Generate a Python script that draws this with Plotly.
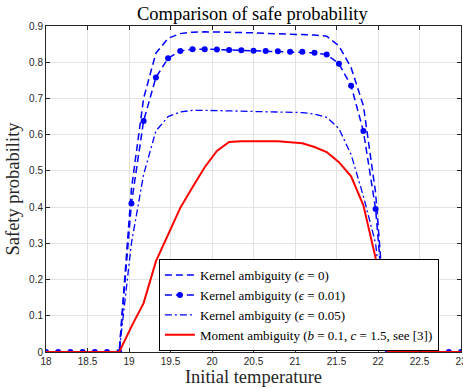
import plotly.graph_objects as go

x_temp = [18.0, 18.147, 18.294, 18.441, 18.588, 18.735, 18.882, 19.029, 19.176, 19.324,
          19.471, 19.618, 19.765, 19.912, 20.059, 20.206, 20.353, 20.5, 20.647, 20.794,
          20.941, 21.088, 21.235, 21.382, 21.529, 21.676, 21.824, 21.971, 22.118, 22.265,
          22.412, 22.559, 22.706, 22.853, 23.0]

kernel_eps0 = [0, 0, 0, 0, 0, 0, 0, 0.45, 0.70, 0.825,
               0.866, 0.879, 0.883, 0.884, 0.884, 0.883, 0.882, 0.881, 0.880, 0.879,
               0.878, 0.877, 0.875, 0.872, 0.845, 0.785, 0.68, 0.44, 0, 0,
               0, 0, 0, 0, 0]

kernel_eps001 = [0, 0, 0, 0, 0, 0, 0, 0.41, 0.638, 0.758,
                 0.811, 0.831, 0.836, 0.836, 0.835, 0.834, 0.833, 0.832, 0.831, 0.830,
                 0.829, 0.829, 0.826, 0.821, 0.796, 0.735, 0.61, 0.395, 0, 0,
                 0, 0, 0, 0, 0]

kernel_eps005 = [0, 0, 0, 0, 0, 0, 0, 0.30, 0.49, 0.61,
                 0.65, 0.663, 0.667, 0.667, 0.667, 0.666, 0.665, 0.664, 0.663, 0.663,
                 0.662, 0.661, 0.657, 0.648, 0.617, 0.545, 0.43, 0.30, 0, 0,
                 0, 0, 0, 0, 0]

moment = [0, 0, 0, 0, 0, 0, 0, 0.07, 0.135, 0.25,
          0.325, 0.398, 0.455, 0.51, 0.555, 0.58, 0.582, 0.583, 0.582, 0.582,
          0.579, 0.576, 0.566, 0.552, 0.524, 0.485, 0.405, 0.26, 0, 0,
          0, 0, 0, 0, 0]

names = ["Kernel ambiguity (<i>ϵ</i> = 0)",
         "Kernel ambiguity (<i>ϵ</i> = 0.01)",
         "Kernel ambiguity (<i>ϵ</i> = 0.05)",
         "Moment ambiguity (<i>b</i> = 0.1, <i>c</i> = 1.5, see [3])"]

x_ticks = [18, 18.5, 19, 19.5, 20, 20.5, 21, 21.5, 22, 22.5, 23]
y_ticks = [0, 0.1, 0.2, 0.3, 0.4, 0.5, 0.6, 0.7, 0.8, 0.9]

serif = "Liberation Serif"
sans = "Liberation Sans"

fig = go.Figure()
fig.add_trace(go.Scatter(x=x_temp, y=kernel_eps0, mode="lines", name=names[0],
                         line=dict(color="#0000FF", width=1.5, dash="7px,4px")))
fig.add_trace(go.Scatter(x=x_temp, y=kernel_eps001, mode="lines+markers", name=names[1],
                         line=dict(color="#0000FF", width=1.5, dash="7px,4px"),
                         marker=dict(color="#0000FF", size=6, symbol="circle")))
fig.add_trace(go.Scatter(x=x_temp, y=kernel_eps005, mode="lines", name=names[2],
                         line=dict(color="#0000FF", width=1.3, dash="7px,3px,2px,3px")))
fig.add_trace(go.Scatter(x=x_temp, y=moment, mode="lines", name=names[3],
                         line=dict(color="#FF0000", width=2)))

axis_common = dict(showgrid=True, gridcolor="#E3E3E3", gridwidth=1,
                   showline=True, linecolor="#262626", linewidth=1, mirror="ticks",
                   ticks="inside", ticklen=4, tickcolor="#262626",
                   tickfont=dict(family=sans, size=10, color="#262626"),
                   zeroline=False, automargin=False, ticklabeloverflow="allow")

fig.update_xaxes(range=[18, 23], tickvals=x_ticks,
                 ticktext=[f"{v:g}" for v in x_ticks],
                 title=dict(text="Initial temperature", font=dict(family=serif, size=18.5, color="#262626"),
                            standoff=3),
                 **axis_common)
fig.update_yaxes(range=[0, 0.9], tickvals=y_ticks,
                 ticktext=[f"{v:g}" for v in y_ticks],
                 title=dict(text="Safety probability", font=dict(family=serif, size=18.5, color="#262626"),
                            standoff=4),
                 **axis_common)

fig.update_layout(
    width=463, height=391,
    margin=dict(l=46, r=2, t=26, b=39, autoexpand=False),
    paper_bgcolor="white", plot_bgcolor="white",
    title=dict(text="Comparison of safe probability", x=0.545, xanchor="center", y=0.982, yanchor="top",
               font=dict(family=serif, size=18.5, color="#000000")),
    legend=dict(x=0.272, y=0.285, xanchor="left", yanchor="top",
                bgcolor="white", bordercolor="#000000", borderwidth=1,
                font=dict(family=serif, size=13, color="#000000"),
                tracegroupgap=0, itemwidth=30),
    showlegend=True,
)

fig.write_html("out.html", config={"displayModeBar": False},
               post_script="document.body.style.margin='0';document.body.style.overflow='hidden';")
